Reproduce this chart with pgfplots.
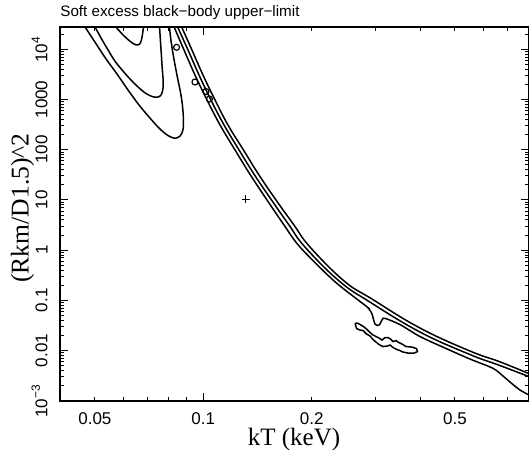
\documentclass[border=0pt]{standalone}
\usepackage{fontspec}
\setmainfont{Liberation Serif}
\newfontfamily\sansf{Liberation Sans}
\usepackage{pgfplots}
\pgfplotsset{compat=1.18}
\usetikzlibrary{calc}

\begin{document}
\begin{tikzpicture}
\begin{axis}[
  scale only axis, width=234.2bp, height=186.85bp,
  xmode=log, ymode=log,
  xmin=0.04, xmax=0.8, ymin=1e-3, ymax=2.78e4,
  axis line style={line width=0.75bp},
  tick style={line width=0.5bp, black},
  major tick length=4bp, minor tick length=2bp,
  tick pos=both, tick align=inside,
  xtick={0.1}, xticklabels={0.1},
  extra x ticks={0.05,0.2,0.5}, extra x tick labels={0.05,0.2,0.5},
  extra x tick style={major tick length=2bp},
  minor xtick={0.06,0.07,0.08,0.09,0.3,0.4,0.6,0.7},
  ytick={1e-3,1e-2,1e-1,1,10,100,1000,1e4},
  yticklabels={10\textsuperscript{−3},0.01,0.1,1,10,100,1000,10\textsuperscript{4}},
  minor ytick={2e-3,3e-3,4e-3,5e-3,6e-3,7e-3,8e-3,9e-3,
    0.02,0.03,0.04,0.05,0.06,0.07,0.08,0.09,
    0.2,0.3,0.4,0.5,0.6,0.7,0.8,0.9,
    2,3,4,5,6,7,8,9,
    20,30,40,50,60,70,80,90,
    200,300,400,500,600,700,800,900,
    2000,3000,4000,5000,6000,7000,8000,9000,2e4},
  tick label style={font=\sansf\fontsize{8.5bp}{10bp}\selectfont},
  xticklabel style={anchor=north, inner ysep=5.7bp},
  yticklabel style={rotate=90, anchor=south, inner ysep=6bp},
  title={Soft excess black−body upper−limit},
  title style={at={(axis description cs:0,1.0276)}, anchor=base west, yshift=-6pt,
    inner sep=0pt, font=\sansf\fontsize{7.6bp}{9bp}\selectfont},
  xlabel={kT (keV)},
  xlabel style={at={(axis description cs:0.4995,-0.1188)}, anchor=base, inner sep=0pt,
    font=\fontsize{12.5bp}{14bp}\selectfont},
  ylabel={(Rkm/D1.5)\textasciicircum 2},
  ylabel style={at={(axis description cs:-0.0672,0.5155)}, anchor=base, inner sep=0pt,
    font=\fontsize{12.8bp}{14bp}\selectfont},
]
% inner contour
\addplot[black, line width=0.75bp, smooth, tension=0.5] coordinates {
(0.0561,31900) (0.0572,27800) (0.0595,20200) (0.0622,15000) (0.0642,12760)
(0.0657,12190) (0.0669,13350) (0.0676,17580) (0.0680,23170) (0.0684,31900)};
% middle contour
\addplot[black, line width=0.75bp, smooth, tension=0.5] coordinates {
(0.0494,33400) (0.0500,28180) (0.0520,16790) (0.0544,9680) (0.0568,5848)
(0.0595,3870) (0.0626,2560) (0.0659,1775) (0.0693,1317) (0.0725,1132)
(0.0749,1121) (0.0765,1258) (0.0773,1694) (0.0773,2681) (0.0769,4241)
(0.0765,7693) (0.0760,15310) (0.0756,27800) (0.0753,33400)};
% outer contour
\addplot[black, line width=0.75bp, smooth, tension=0.5] coordinates {
(0.0463,33400) (0.0469,28180) (0.0500,13980) (0.0537,6410) (0.0576,3221)
(0.0618,1546) (0.0663,776.9) (0.0711,428.1) (0.0758,258.5) (0.0798,191.8)
(0.0834,168.7) (0.0862,187.4) (0.0878,246.9) (0.0881,390.5) (0.0875,776.9)
(0.0864,1410) (0.0845,3076) (0.0826,7356) (0.0813,15310) (0.0806,26570)
(0.0803,33400)};
% band, upper line
\addplot[black, line width=0.75bp, smooth, tension=0.7] coordinates {
(0.0853,38350) (0.0870,28180) (0.0930,9680) (0.0998,3076) (0.1078,977.3)
(0.1171,310.5) (0.1293,98.63) (0.1428,31.33) (0.1592,9.954) (0.1786,3.162)
(0.1979,1.1528) (0.2459,0.2440) (0.2942,0.1061) (0.3999,0.02807)
(0.5506,0.009773) (0.6672,0.005950) (0.8134,0.003336)};
% band, middle line
\addplot[black, line width=0.75bp, smooth, tension=0.7] coordinates {
(0.0834,38350) (0.0848,28180) (0.0907,9680) (0.0973,3076) (0.1050,977.3)
(0.1142,310.5) (0.1257,98.63) (0.1388,31.33) (0.1547,9.954) (0.1730,3.162)
(0.1916,1.1528) (0.2382,0.2440) (0.2887,0.09465) (0.3999,0.02336)
(0.5506,0.008325) (0.6672,0.005023) (0.8134,0.002919)};
% band, lower line with notch
\addplot[black, line width=0.75bp, smooth, tension=0.5] coordinates {
(0.0813,38350) (0.0829,28180) (0.0884,9680) (0.0948,3076) (0.1024,977.3)
(0.1113,310.5) (0.1225,98.63) (0.1352,31.33) (0.1503,9.954) (0.1676,3.162)
(0.1856,1.1528) (0.2307,0.2440) (0.2831,0.07699) (0.2874,0.06929)
(0.2937,0.05508) (0.2999,0.03372) (0.3077,0.03221) (0.3143,0.04183)
(0.3197,0.04379) (0.3518,0.03296) (0.3999,0.01901) (0.4692,0.01122)
(0.5506,0.006772) (0.6379,0.004419) (0.6800,0.003105) (0.7111,0.002358)
(0.7581,0.001634) (0.8134,0.001241)};
% island below the band
\addplot[black, line width=0.75bp] coordinates {
(0.2639,0.0345) (0.2665,0.02743) (0.2725,0.02561) (0.2778,0.02503)
(0.2840,0.02132) (0.2905,0.01945) (0.2961,0.01656) (0.3018,0.01477)
(0.3077,0.01317) (0.3156,0.01201) (0.3238,0.01229) (0.3301,0.01287)
(0.3365,0.01148) (0.3452,0.01047) (0.3518,0.01) (0.3587,0.009335)
(0.3703,0.008917) (0.3848,0.008917) (0.3936,0.009552) (0.3910,0.01096)
(0.3799,0.01174) (0.3656,0.01201) (0.3564,0.01347) (0.3474,0.01477)
(0.3430,0.01582) (0.3365,0.01511) (0.3311,0.01695) (0.3259,0.01815)
(0.3197,0.01815) (0.3136,0.01619) (0.3077,0.01774) (0.3018,0.01901)
(0.2961,0.02036) (0.2905,0.02284) (0.2840,0.02681) (0.2786,0.03007)
(0.2725,0.03296) (0.2673,0.03530) (0.2639,0.0345)};
% small closed contours along the band
\addplot[only marks, mark=o, mark size=1.5bp, mark options={line width=0.6bp, black}] coordinates {
(0.0843,10960) (0.0948,2232) (0.1017,1443) (0.1040,1023)};
% best fit
\addplot[only marks, mark=+, mark size=2bp, mark options={line width=0.5bp, black}] coordinates {
(0.1310,10.42)};
\end{axis}
\pgfresetboundingbox
\path[use as bounding box] ($(current axis.south west)+(-30bp,-26.7bp)$) rectangle ($(current axis.north east)+(1.75bp,13.5bp)$);
\end{tikzpicture}
\end{document}
